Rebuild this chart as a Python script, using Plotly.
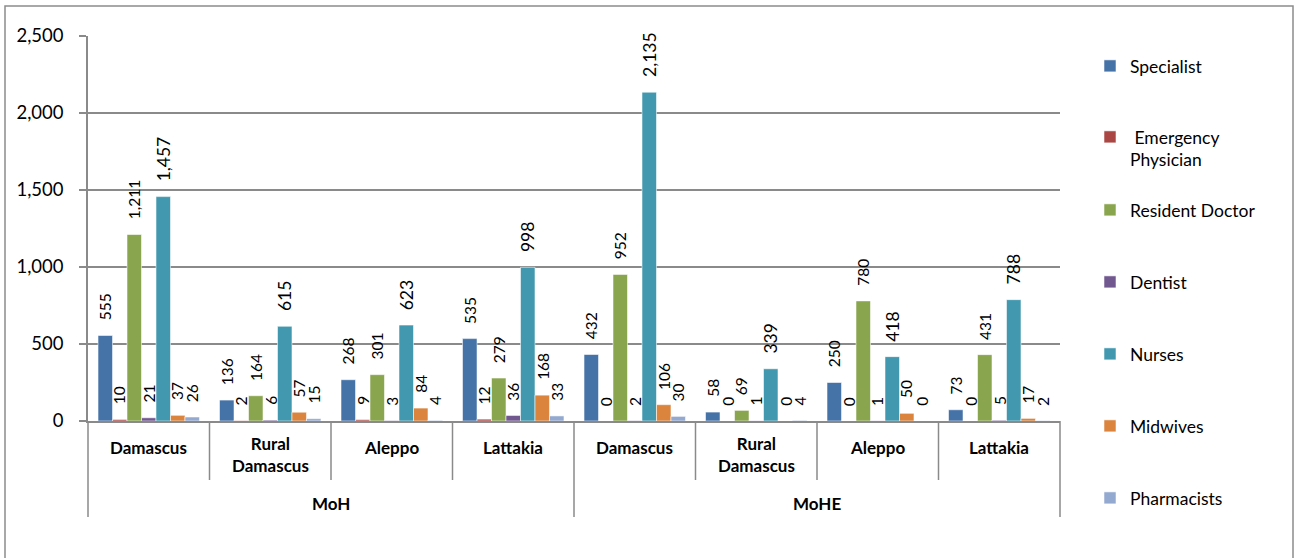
import plotly.graph_objects as go

# Facilities grouped by ministry, then by governorate
ministries = ["MoH", "MoHE"]
governorates = ["Damascus", "Rural<br>Damascus", "Aleppo", "Lattakia",
                "Damascus", "Rural<br>Damascus", "Aleppo", "Lattakia"]

specialist = [555, 136, 268, 535, 432, 58, 250, 73]
emergency_physician = [10, 2, 9, 12, 0, 0, 0, 0]
resident_doctor = [1211, 164, 301, 279, 952, 69, 780, 431]
dentist = [21, 6, 3, 36, 2, 1, 1, 5]
nurses = [1457, 615, 623, 998, 2135, 339, 418, 788]
midwives = [37, 57, 84, 168, 106, 0, 50, 17]
pharmacists = [26, 15, 4, 33, 30, 4, 0, 2]

series = [
    ("Specialist", specialist, "#4572A7"),
    (" Emergency<br>Physician", emergency_physician, "#AA4643"),
    ("Resident Doctor", resident_doctor, "#89A54E"),
    ("Dentist", dentist, "#71588F"),
    ("Nurses", nurses, "#4198AF"),
    ("Midwives", midwives, "#DB843D"),
    ("Pharmacists", pharmacists, "#93A9CF"),
]

# Pixel geometry of the plotting area
W, H = 1297, 558
L, R, T, B = 88, 1060, 36, 421
pw, ph = R - L, B - T

def px_x(px):
    return (px - L) / pw

def px_y(py):
    return (B - py) / ph

FONT = "Lato"
GRID = "#8a8a8a"
BARGAP = 0.165
n_series = len(series)
n_cat = len(governorates)
bar_w = (1 - BARGAP) / n_series

x_pos = list(range(n_cat))

fig = go.Figure()
legend_rows = [66, 138, 210, 282, 354, 426, 498]
annotations = []
for j, (name, vals, color) in enumerate(series):
    leg = "legend" if j == 0 else f"legend{j + 1}"
    fig.add_trace(go.Bar(
        x=x_pos, y=vals, name=name, legend=leg,
        marker=dict(color=color, line=dict(color="rgba(255,255,255,0.55)", width=1)),
        hoverinfo="x+y+name",
    ))
    size = 17.5 if name == "Nurses" else 15.5
    for i, v in enumerate(vals):
        annotations.append(dict(
            x=i + (j - (n_series - 1) / 2) * bar_w, y=v, xref="x", yref="y",
            text=f"{v:,}", showarrow=False, textangle=-90,
            xanchor="center", yanchor="bottom", yshift=13,
            font=dict(family=FONT, size=size, color="#000000"),
        ))

# Inner (governorate) and outer (ministry) category labels
for i, g in enumerate(governorates):
    two_line = "<br>" in g
    annotations.append(dict(
        x=i, y=0, xref="x", yref="y", text=f"<b>{g}</b>", showarrow=False,
        xanchor="center", yanchor="middle", yshift=-(454 - B) if two_line else -(447 - B),
        font=dict(family=FONT, size=17, color="#000000"),
    ))
for k, m in enumerate(ministries):
    annotations.append(dict(
        x=k * 4 + 1.5, y=0, xref="x", yref="y", text=f"<b>{m}</b>", showarrow=False,
        xanchor="center", yanchor="middle", yshift=-(503 - B),
        font=dict(family=FONT, size=17, color="#000000"),
    ))

shapes = []
# separators between governorates (longer ones between ministries)
for k in range(n_cat + 1):
    outer = k % 4 == 0
    shapes.append(dict(
        type="line", xref="x domain", yref="y domain", ysizemode="pixel", yanchor=0,
        x0=k / n_cat, x1=k / n_cat, y0=0, y1=-((517 if outer else 480) - B),
        line=dict(color=GRID, width=1.5),
    ))
# chart frame
shapes.append(dict(
    type="rect", xref="paper", yref="paper",
    x0=px_x(5), x1=px_x(1293), y0=px_y(575), y1=px_y(6),
    line=dict(color="#8c8c8c", width=1.5), fillcolor="rgba(0,0,0,0)", layer="below",
))

layout_legends = {}
for j, (name, vals, color) in enumerate(series):
    key = "legend" if j == 0 else f"legend{j + 1}"
    layout_legends[key] = dict(
        x=px_x(1090), xanchor="left",
        y=px_y(legend_rows[j] - (19 if j == 1 else 0)),
        yanchor="top" if j == 1 else "middle",
        valign="top",
        bgcolor="rgba(0,0,0,0)", borderwidth=0,
        font=dict(family=FONT, size=17.5, color="#000000"),
    )

fig.update_layout(
    width=W, height=H,
    margin=dict(l=L, r=W - R, t=T, b=H - B, pad=0),
    paper_bgcolor="#ffffff", plot_bgcolor="#ffffff",
    barmode="group", bargap=BARGAP, bargroupgap=0,
    showlegend=True,
    xaxis=dict(range=[-0.5, n_cat - 0.5], showticklabels=False,
               showgrid=False, zeroline=False, ticks="",
               showline=True, linecolor=GRID, linewidth=1.5),
    yaxis=dict(range=[0, 2500], dtick=500, tickformat=",",
               showgrid=True, gridcolor=GRID, gridwidth=1.5,
               zeroline=False, showline=True, linecolor=GRID, linewidth=1.5,
               ticks="outside", ticklen=7, tickwidth=1.5, tickcolor=GRID,
               ticklabelstandoff=12,
               tickfont=dict(family=FONT, size=18.5, color="#000000")),
    annotations=annotations,
    shapes=shapes,
    **layout_legends,
)

fig.write_html("out.html")
